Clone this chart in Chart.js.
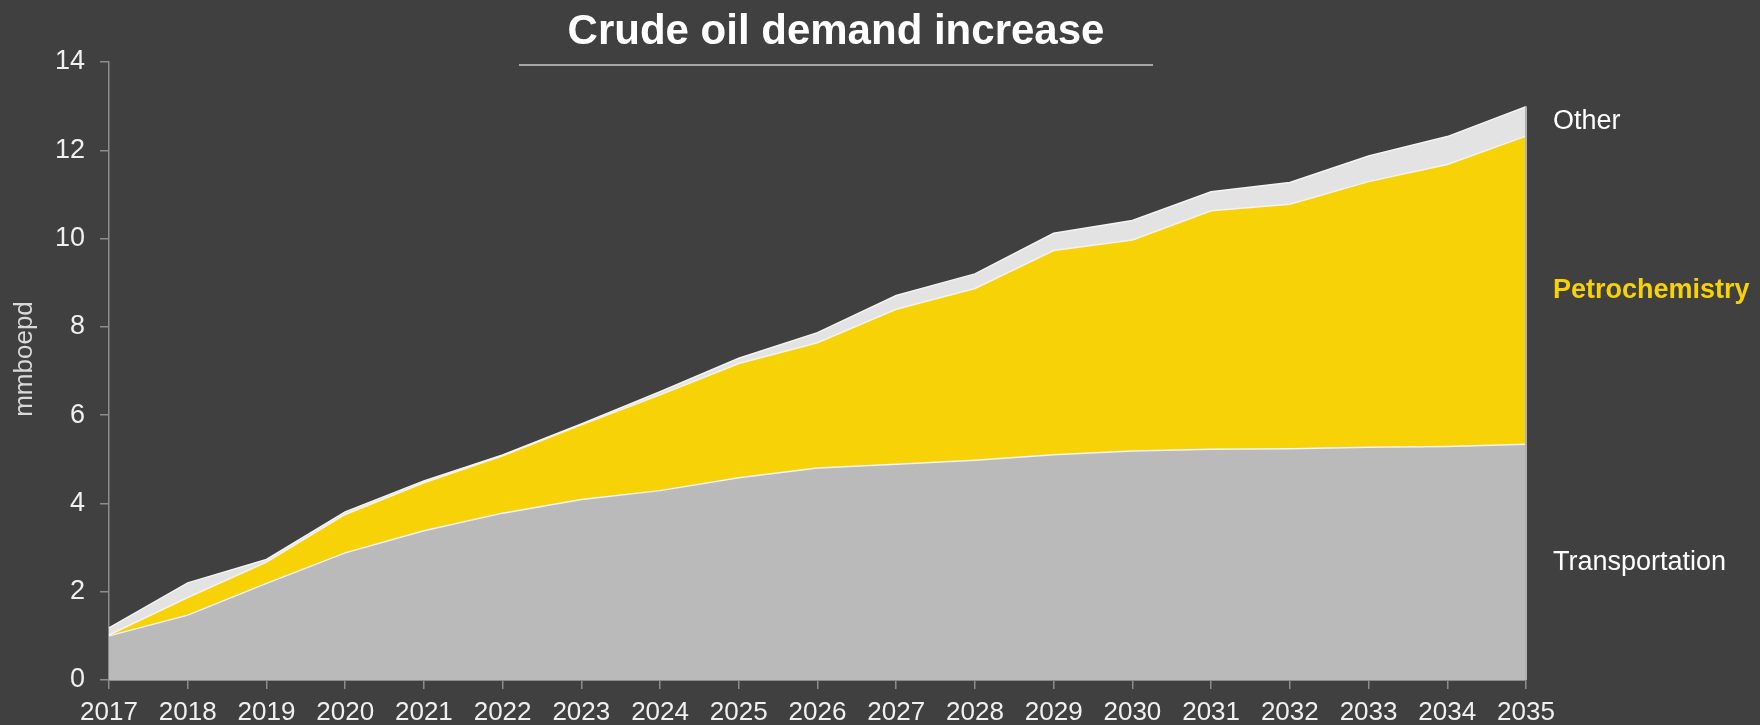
<!DOCTYPE html>
<html>
<head>
<meta charset="utf-8">
<script src="https://cdn.jsdelivr.net/npm/chart.js@4.4.1/dist/chart.umd.min.js"></script>
<style>
  html, body { margin: 0; padding: 0; background: #404040; }
  #wrap { width: 1760px; height: 725px; position: relative; }
</style>
</head>
<body>
<div id="wrap"><canvas id="chart"></canvas></div>
<script>
const years = ['2017', '2018', '2019', '2020', '2021', '2022', '2023', '2024', '2025', '2026',
  '2027', '2028', '2029', '2030', '2031', '2032', '2033', '2034', '2035'];

// each layer's own share, stacked on top of the previous one
const transportation = [1.0, 1.47, 2.19, 2.88, 3.38, 3.78, 4.09, 4.29, 4.58, 4.80,
  4.89, 4.98, 5.10, 5.19, 5.23, 5.24, 5.27, 5.29, 5.34];
const petrochemistry = [0.02, 0.40, 0.48, 0.87, 1.09, 1.30, 1.69, 2.17, 2.59, 2.84,
  3.51, 3.89, 4.63, 4.78, 5.40, 5.54, 6.02, 6.39, 6.98];
const other = [0.16, 0.33, 0.06, 0.06, 0.04, 0.02, 0.02, 0.07, 0.12, 0.23,
  0.31, 0.33, 0.39, 0.44, 0.43, 0.49, 0.58, 0.63, 0.67];

const yTicks = [0, 2, 4, 6, 8, 10, 12, 14];

const seriesNames = ['Transportation', 'Petrochemistry', 'Other'];
const fillColors = ['#bababa', '#f6d206', '#e3e3e3'];
const labelColors = ['#ffffff', '#f6d206', '#ffffff'];

const fontFamily = '"Liberation Sans", Arial, Helvetica, sans-serif';

// title, underline, axis title and the series names at the right end
const decorations = {
  id: 'decorations',
  afterDatasetsDraw(chart) {
    const { ctx, scales } = chart;
    const last = years.length - 1;
    const total = transportation[last] + petrochemistry[last] + other[last];
    // closing edge of the stack at the last year
    const x = scales.x.getPixelForValue(last);
    ctx.save();
    ctx.strokeStyle = '#b0b0b0';
    ctx.lineWidth = 2;
    ctx.beginPath();
    ctx.moveTo(x, scales.y.getPixelForValue(total));
    ctx.lineTo(x, scales.y.getPixelForValue(0));
    ctx.stroke();
    ctx.restore();
  },
  afterDraw(chart) {
    const { ctx, scales } = chart;
    ctx.save();

    ctx.fillStyle = '#ffffff';
    ctx.font = 'bold 42px ' + fontFamily;
    ctx.textAlign = 'center';
    ctx.textBaseline = 'middle';
    ctx.fillText('Crude oil demand increase', 836, 32);

    ctx.strokeStyle = '#a6a6a6';
    ctx.lineWidth = 2;
    ctx.beginPath();
    ctx.moveTo(519, 65);
    ctx.lineTo(1153, 65);
    ctx.stroke();

    ctx.save();
    ctx.translate(25, 359);
    ctx.rotate(-Math.PI / 2);
    ctx.fillStyle = '#d9d9d9';
    ctx.font = '26px ' + fontFamily;
    ctx.fillText('mmboepd', 0, 0);
    ctx.restore();

    // names sit at the middle of each band at the last year
    const last = years.length - 1;
    const layers = [transportation, petrochemistry, other];
    let base = 0;
    ctx.textAlign = 'left';
    layers.forEach((layer, i) => {
      const mid = base + layer[last] / 2;
      base += layer[last];
      ctx.fillStyle = labelColors[i];
      ctx.font = (i === 1 ? 'bold ' : '') + '27px ' + fontFamily;
      ctx.fillText(seriesNames[i], chart.chartArea.right + 27, scales.y.getPixelForValue(mid));
    });

    ctx.restore();
  },
};

const makeDataset = (label, data, color, fill) => ({
  label,
  data,
  backgroundColor: color,
  borderColor: '#f4f4f4',
  borderWidth: 1.5,
  pointRadius: 0,
  tension: 0,
  fill,
});

new Chart(document.getElementById('chart'), {
  type: 'line',
  data: {
    labels: years,
    datasets: [
      makeDataset(seriesNames[0], transportation, fillColors[0], 'origin'),
      makeDataset(seriesNames[1], petrochemistry, fillColors[1], '-1'),
      makeDataset(seriesNames[2], other, fillColors[2], '-1'),
    ],
  },
  options: {
    responsive: true,
    maintainAspectRatio: false,
    animation: false,
    layout: { padding: { top: 62, right: 234, left: 0, bottom: 0 } },
    plugins: {
      legend: { display: false },
      tooltip: { enabled: false },
    },
    scales: {
      x: {
        offset: false,
        afterFit: (scale) => { scale.height = 45; },
        grid: {
          drawOnChartArea: false,
          color: '#8c8c8c',
          tickLength: 9,
          lineWidth: 1.5,
        },
        border: { color: '#8c8c8c', width: 2 },
        ticks: {
          color: '#f0f0f0',
          font: { family: fontFamily, size: 26 },
          padding: 8,
          maxRotation: 0,
          autoSkip: false,
        },
      },
      y: {
        stacked: true,
        min: yTicks[0],
        max: yTicks[yTicks.length - 1],
        afterFit: (scale) => { scale.width = 109; },
        afterBuildTicks: (scale) => {
          scale.ticks = yTicks.map((v) => ({ value: v }));
        },
        grid: {
          drawOnChartArea: false,
          color: '#8c8c8c',
          tickLength: 9,
          lineWidth: 1.5,
        },
        border: { color: '#8c8c8c', width: 1.5 },
        ticks: {
          color: '#f0f0f0',
          font: { family: fontFamily, size: 27 },
          padding: 15,
        },
      },
    },
  },
  plugins: [decorations],
});
</script>
</body>
</html>
